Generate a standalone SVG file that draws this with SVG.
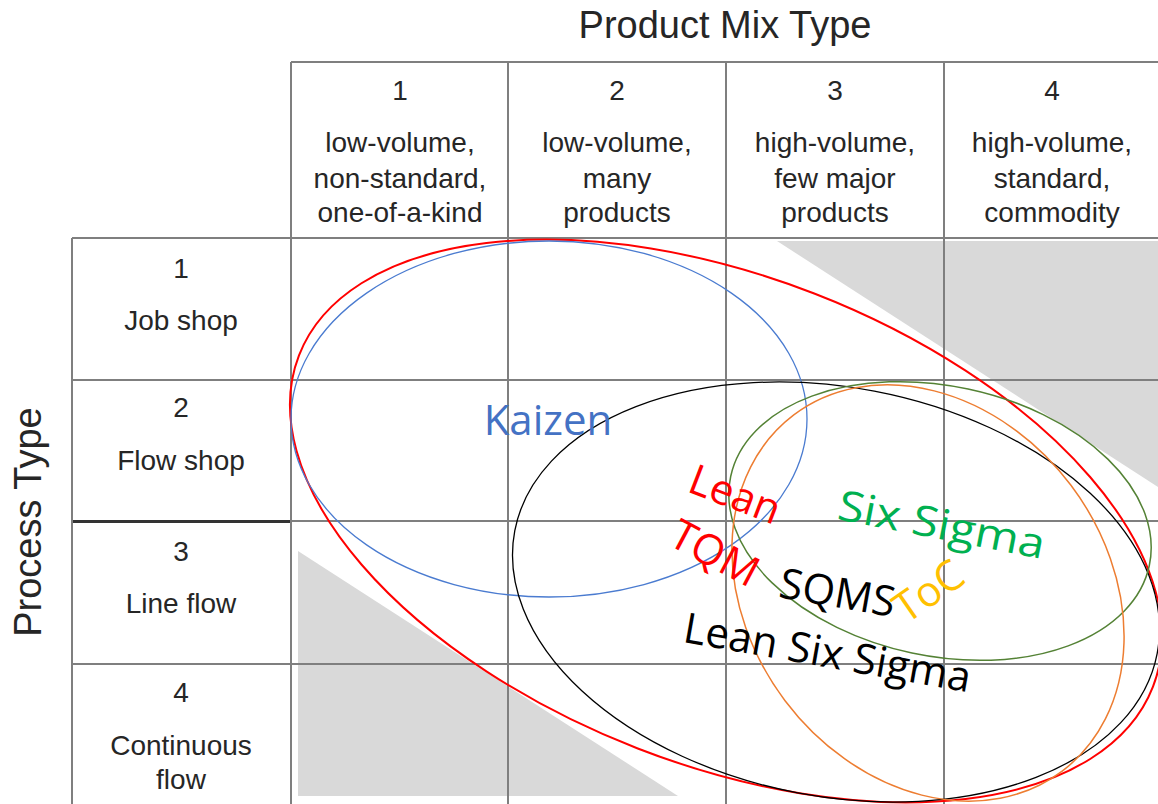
<svg xmlns="http://www.w3.org/2000/svg" width="1158" height="804" viewBox="0 0 1158 804">
  <style>
    .grid { stroke: #7f7f7f; stroke-width: 2; fill: none; }
    .shade { fill: #d9d9d9; }
    .hdr { font-family: "Liberation Sans", Arial, sans-serif; font-size: 28px; fill: #262626; text-anchor: middle; }
    .title { font-family: "Liberation Sans", Arial, sans-serif; font-size: 38px; fill: #262626; text-anchor: middle; }
    .ring { fill: none; }
    .lbl { font-family: "Open Sans", "Liberation Sans", sans-serif; font-size: 42px; text-anchor: middle; }
  </style>
  <rect width="1158" height="804" fill="#ffffff"/>

  <!-- shaded corners of the matrix -->
  <g id="shading">
    <polygon class="shade" points="777,241 1158,241 1158,487"/>
    <polygon class="shade" points="298,551 298,796 678,796"/>
  </g>

  <!-- table grid -->
  <g id="grid">
    <line class="grid" x1="291" y1="62" x2="1158" y2="62"/>
    <line class="grid" x1="72" y1="238" x2="1158" y2="238"/>
    <line class="grid" x1="72" y1="380" x2="1158" y2="380"/>
    <line class="grid" x1="291" y1="521" x2="1158" y2="521"/>
    <line x1="72" y1="521.5" x2="291" y2="521.5" stroke="#333333" stroke-width="3"/>
    <line class="grid" x1="72" y1="664" x2="1158" y2="664"/>
    <line class="grid" x1="72" y1="238" x2="72" y2="804"/>
    <line class="grid" x1="291" y1="62" x2="291" y2="804"/>
    <line class="grid" x1="508" y1="62" x2="508" y2="804"/>
    <line class="grid" x1="726" y1="62" x2="726" y2="804"/>
    <line class="grid" x1="944" y1="62" x2="944" y2="804"/>
  </g>

  <!-- axis titles -->
  <g id="axis-titles">
    <text class="title" x="725" y="38">Product Mix Type</text>
    <text class="title" x="41" y="522" transform="rotate(-90 41 522)">Process Type</text>
  </g>

  <!-- column headers -->
  <g id="col-1">
    <text class="hdr" x="400" y="100">1</text>
    <text class="hdr" x="400" y="152">low-volume,</text>
    <text class="hdr" x="400" y="188">non-standard,</text>
    <text class="hdr" x="400" y="222">one-of-a-kind</text>
  </g>
  <g id="col-2">
    <text class="hdr" x="617" y="100">2</text>
    <text class="hdr" x="617" y="152">low-volume,</text>
    <text class="hdr" x="617" y="188">many</text>
    <text class="hdr" x="617" y="222">products</text>
  </g>
  <g id="col-3">
    <text class="hdr" x="835" y="100">3</text>
    <text class="hdr" x="835" y="152">high-volume,</text>
    <text class="hdr" x="835" y="188">few major</text>
    <text class="hdr" x="835" y="222">products</text>
  </g>
  <g id="col-4">
    <text class="hdr" x="1052" y="100">4</text>
    <text class="hdr" x="1052" y="152">high-volume,</text>
    <text class="hdr" x="1052" y="188">standard,</text>
    <text class="hdr" x="1052" y="222">commodity</text>
  </g>

  <!-- row headers -->
  <g id="row-1">
    <text class="hdr" x="181" y="278">1</text>
    <text class="hdr" x="181" y="330">Job shop</text>
  </g>
  <g id="row-2">
    <text class="hdr" x="181" y="417">2</text>
    <text class="hdr" x="181" y="470">Flow shop</text>
  </g>
  <g id="row-3">
    <text class="hdr" x="181" y="561">3</text>
    <text class="hdr" x="181" y="613">Line flow</text>
  </g>
  <g id="row-4">
    <text class="hdr" x="181" y="702">4</text>
    <text class="hdr" x="181" y="755">Continuous</text>
    <text class="hdr" x="181" y="789">flow</text>
  </g>

  <!-- method regions -->
  <g id="regions">
    <ellipse id="lean-region" class="ring" cx="726" cy="521" rx="458" ry="244" transform="rotate(21.2 726 521)" stroke="#ff0000" stroke-width="2"/>
    <ellipse id="kaizen-region" class="ring" cx="549" cy="419" rx="258" ry="178" stroke="#4a7bd0" stroke-width="1.3"/>
    <ellipse id="lss-region" class="ring" cx="836" cy="592" rx="327" ry="204.5" transform="rotate(10.8 836 592)" stroke="#000000" stroke-width="1.3"/>
    <ellipse id="sixsigma-region" class="ring" cx="940" cy="521" rx="214" ry="135" transform="rotate(12 940 521)" stroke="#548235" stroke-width="1.5"/>
    <ellipse id="toc-region" class="ring" cx="928" cy="593" rx="223" ry="179" transform="rotate(53 928 593)" stroke="#ed7d31" stroke-width="1.5"/>
  </g>

  <!-- method labels -->
  <g id="labels">
    <text id="kaizen" class="lbl" x="548" y="435" fill="#4472c4">Kaizen</text>
    <text id="lean" class="lbl" x="730" y="508" fill="#ff0000" transform="rotate(21 730 508)">Lean</text>
    <text id="tqm" class="lbl" x="708" y="566" fill="#ff0000" font-size="44" transform="rotate(28 708 566)">TQM</text>
    <text id="sixsigma" class="lbl" x="939" y="539" fill="#00b050" font-size="50" textLength="210" lengthAdjust="spacingAndGlyphs" transform="rotate(11 939 539)">Six Sigma</text>
    <text id="sqms" class="lbl" x="835" y="607" fill="#000000" font-size="45" transform="rotate(10 835 607)">SQMS</text>
    <text id="toc" class="lbl" x="937" y="603" fill="#ffc000" transform="rotate(-35 937 603)">ToC</text>
    <text id="lss" class="lbl" x="825" y="667" fill="#000000" font-size="44" transform="rotate(10 825 667)">Lean Six Sigma</text>
  </g>
</svg>
